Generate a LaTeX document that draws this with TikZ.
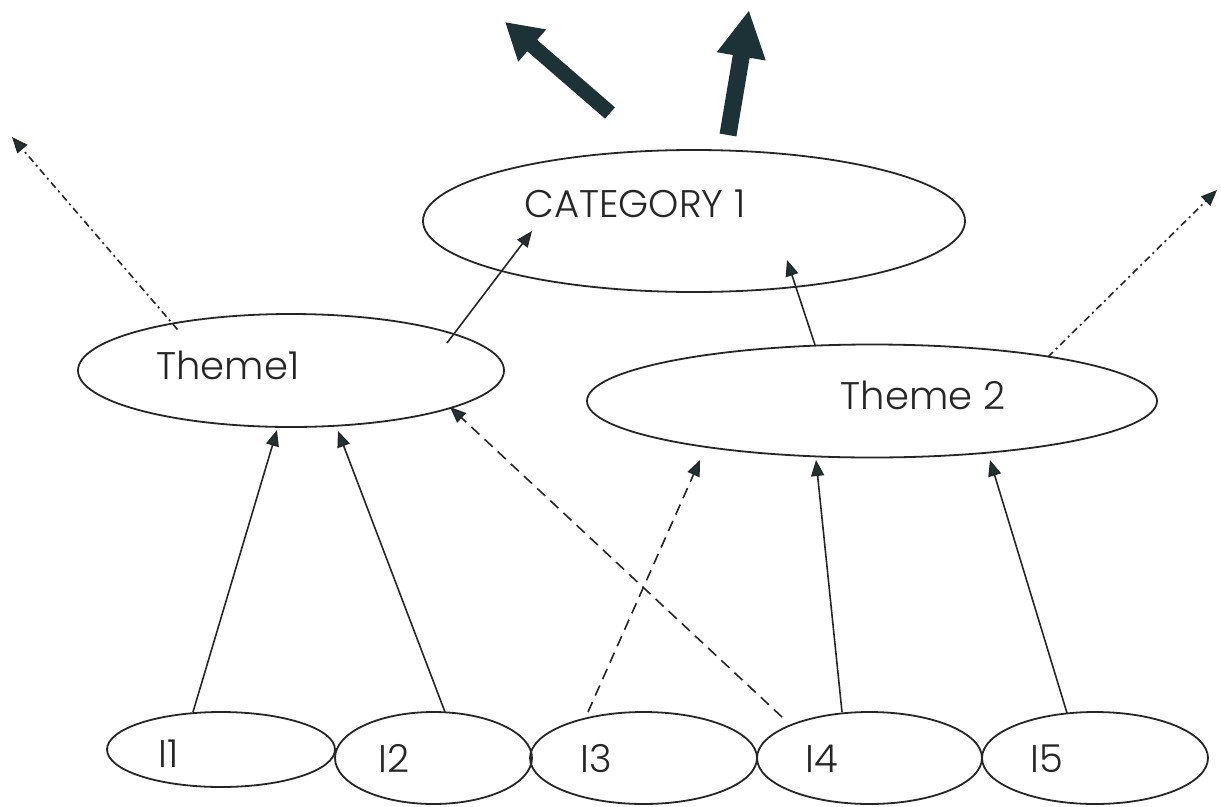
\documentclass[tikz,border=0pt]{standalone}
\usepackage{fontspec}
\IfFontExistsTF{Poppins Light}{\setmainfont{Poppins Light}}{\setmainfont{Poppins}}
\usetikzlibrary{shapes.geometric,arrows.meta,calc}
\definecolor{ink}{HTML}{262626}
\definecolor{tipink}{HTML}{1F3336}
\definecolor{bigfill}{HTML}{1C3236}
\begin{document}
\begin{tikzpicture}[x=1pt,y=-1pt,
  ell/.style={ellipse,draw=ink,line width=1.8pt,inner sep=0pt,outer sep=0pt},
  lbl/.style={font=\fontsize{38.5}{42}\selectfont,text=ink,inner sep=0pt,anchor=base},
  con/.style={draw=ink,line width=1.6pt,-{Triangle[length=16pt,width=13pt,fill=tipink]}},
  dashcon/.style={con,dash pattern=on 11pt off 7pt},
  dotcon/.style={con,dash pattern=on 7pt off 4pt on 2pt off 4pt},
  bigarrow/.style={draw=bigfill,line cap=butt}]
\useasboundingbox (0,0) rectangle (1221,806);
\fill[white] (0,0) rectangle (1221,806);

% ellipses
\node[ell,minimum width=542pt,minimum height=142pt] (cat) at (694,221) {};
\node[ell,minimum width=426pt,minimum height=113pt] (th1) at (291,370.5) {};
\node[ell,minimum width=570pt,minimum height=113pt] (th2) at (872,401) {};
\node[ell,minimum width=228pt,minimum height=75pt] (i1) at (221,749.5) {};
\node[ell,minimum width=197pt,minimum height=92pt] (i2) at (433.5,758) {};
\node[ell,minimum width=227pt,minimum height=92pt] (i3) at (643.5,758) {};
\node[ell,minimum width=225pt,minimum height=92pt] (i4) at (869.5,758) {};
\node[ell,minimum width=226pt,minimum height=92pt] (i5) at (1095,758) {};

% labels
\node[lbl] (catt) at (635,217) {CATEGORY 1};
\node[lbl] (th1t) at (228,379) {Theme1};
\node[lbl] (th2t) at (923,409) {Theme 2};
\node[lbl] (i1t) at (169,767) {I1};
\node[lbl] (i2t) at (394,772) {I2};
\node[lbl] (i3t) at (596,772) {I3};
\node[lbl] (i4t) at (822,772) {I4};
\node[lbl] (i5t) at (1047,772) {I5};

% connectors between ellipses
\draw[con] ($(th1)+(156,-27.5)$) -- ($(cat)+(-162,10)$);
\draw[con] ($(th2)+(-57,-56)$) -- ($(cat)+(93,39)$);
\draw[con] ($(i1)+(-28,-37.5)$) -- ($(th1)+(-14,59.5)$);
\draw[con] ($(i2)+(11.5,-46)$) -- ($(th1)+(47,60.5)$);
\draw[dashcon] ($(i3)+(-55.5,-46)$) -- ($(th2)+(-172,59)$);
\draw[dashcon] ($(i4)+(-87.5,-41)$) -- ($(th1)+(159,36.5)$);
\draw[con] ($(i4)+(-27.5,-46)$) -- ($(th2)+(-56,59)$);
\draw[con] ($(i5)+(-28,-45)$) -- ($(th2)+(118,59)$);

% dotted connectors leaving the themes
\coordinate (outl) at (12,137);
\coordinate (outr) at (1217,190);
\draw[dotcon] ($(th1)+(-113.5,-41)$) -- (outl);
\draw[dotcon] ($(th2)+(176,-44)$) -- (outr);

% big arrows above the category
\coordinate (ba1s) at (610,113);
\coordinate (ba1e) at (505,22);
\coordinate (ba2s) at (728,135);
\coordinate (ba2e) at (749,10);
\draw[bigarrow,line width=15pt,-{Triangle[length=36pt,width=40pt,fill=bigfill]}] (ba1s) -- (ba1e);
\draw[bigarrow,line width=17pt,-{Triangle[length=47pt,width=46pt,fill=bigfill]}] (ba2s) -- (ba2e);
\end{tikzpicture}
\end{document}
